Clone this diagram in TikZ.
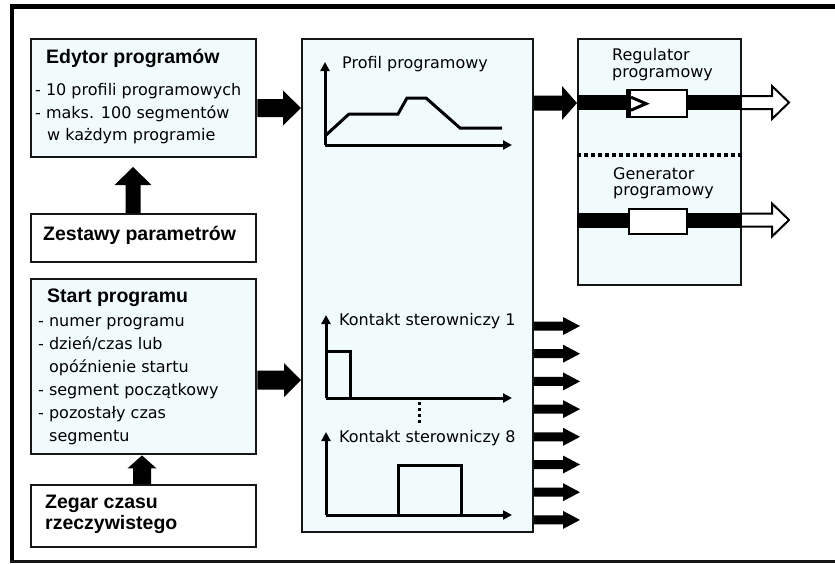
\documentclass[tikz,border=0pt]{standalone}
\usepackage{fontspec}
\setmainfont{DejaVu Sans}
\newfontfamily\hdfam{Liberation Sans}
\usetikzlibrary{arrows.meta,calc}
\definecolor{boxfill}{RGB}{242,251,251}
\definecolor{edge}{RGB}{22,22,22}
% horizontal fat arrow: from, to(tip), shaft half, head half, head length
\newcommand\myharr[5]{%
  \fill[black] ($(#1)+(0,-#3)$) -- ($(#2)+(-#5,-#3)$) -- ($(#2)+(-#5,-#4)$) -- (#2)
    -- ($(#2)+(-#5,#4)$) -- ($(#2)+(-#5,#3)$) -- ($(#1)+(0,#3)$) -- cycle;}
% vertical (upward) fat arrow: from, to(tip), shaft half, head half, head length
\newcommand\myvarr[5]{%
  \fill[black] ($(#1)+(-#3,0)$) -- ($(#2)+(-#3,#5)$) -- ($(#2)+(-#4,#5)$) -- (#2)
    -- ($(#2)+(#4,#5)$) -- ($(#2)+(#3,#5)$) -- ($(#1)+(#3,0)$) -- cycle;}
% straight black bar between two points on one level
\newcommand\mybar[2]{%
  \fill[black] ($(#1)+(0,-7.5)$) rectangle ($(#2)+(0,7.5)$);}
% hollow output arrow starting at a point
\newcommand\myhollow[1]{%
  \filldraw[fill=white, draw=black, line width=2pt, line join=miter]
    ($(#1)+(0,-6.5)$) -- ++(30,0) -- ++(0,-10) -- ++(17,16.5) -- ++(-17,16.5)
    -- ++(0,-10) -- ++(-30,0);}
\begin{document}
\begin{tikzpicture}[x=1pt,y=-1pt,
  box/.style={draw=edge, line width=2.4pt, fill=boxfill, inner sep=0pt, anchor=north west},
  wbox/.style={box, fill=white},
  panel/.style={draw=edge, line width=2pt, fill=boxfill, inner sep=0pt, anchor=north west},
  comp/.style={draw=black, line width=2.4pt, fill=white, inner sep=0pt, anchor=north west},
  txt/.style={font=\fontsize{16}{19}\selectfont, anchor=base west, inner sep=0pt},
  hd/.style={font=\hdfam\bfseries\fontsize{19.5}{22}\selectfont, anchor=base west, inner sep=0pt},
  axis/.style={line width=3pt, -{Triangle[length=9pt,width=9pt]}},
  curve/.style={line width=3pt, line join=miter}
]
\useasboundingbox (0,0) rectangle (835,563);
\fill[white] (0,0) rectangle (835,563);
% outer frame
\draw[line width=5pt, line cap=butt] (10,6.5) -- (835,6.5);
\draw[line width=4pt, line cap=butt] (12,6.5) -- (12,563);
\draw[line width=3pt, line cap=butt, draw=edge] (10,561.5) -- (835,561.5);

% boxes
\node[box, minimum width=225pt, minimum height=118pt] (edytor) at (30,38) {};
\node[wbox, minimum width=225pt, minimum height=48pt] (zest) at (30,213) {};
\node[box, minimum width=225pt, minimum height=175pt] (start) at (30,278) {};
\node[wbox, minimum width=225pt, minimum height=62pt] (zegar) at (30,484) {};
\node[panel, minimum width=231pt, minimum height=493pt] (mid) at (301,38) {};
\node[panel, minimum width=163pt, minimum height=246pt] (rbox) at (577,38) {};

% texts left
\node[hd] (t1) at (46,63.3) {Edytor programów};
\node[txt] (t2) at (35,95) {- 10 profili programowych};
\node[txt] (t3) at (35,118) {- maks. 100 segmentów};
\node[txt] (t4) at (47,140) {w każdym programie};
\node[hd] (t5) at (43,240) {Zestawy parametrów};
\node[hd] (t6) at (47,302) {Start programu};
\node[txt] (t7) at (38,326) {- numer programu};
\node[txt] (t8) at (38,349) {- dzień/czas lub};
\node[txt] (t9) at (49,372) {opóźnienie startu};
\node[txt] (t10) at (38,395) {- segment początkowy};
\node[txt] (t11) at (38,418) {- pozostały czas};
\node[txt] (t12) at (49,441) {segmentu};
\node[hd] (t13) at (45,508) {Zegar czasu};
\node[hd] (t14) at (45,529) {rzeczywistego};

% arrows on the left side
\coordinate (a1) at (0,108);
\coordinate (a2) at (0,380);
\coordinate (a3) at (0,103);
\coordinate (v1) at (133,167);
\coordinate (v2) at (142,0);
\myharr{edytor.east |- a1}{mid.west |- a1}{9}{17.5}{18}
\myharr{start.east |- a2}{mid.west |- a2}{9.5}{17}{17}
\myvarr{zest.north -| v1}{v1}{7.5}{18.5}{18}
\myvarr{zegar.north -| v2}{start.south -| v2}{9}{14.5}{13}
\myharr{mid.east |- a3}{rbox.west |- a3}{7.5}{17}{15}

% output arrows
\foreach \i [evaluate=\i as \yy using 326+27.7*\i] in {0,...,7}{
  \coordinate (o\i) at (580,\yy);
  \myharr{mid.east |- o\i}{o\i}{4.5}{9}{17}
}

% profile chart
\node[txt] (p1) at (342,68) {Profil programowy};
\draw[axis] (325,145) -- (325,62);
\draw[axis] (325,145) -- (512,145);
\draw[curve] (325,136) -- (349,114) -- (398,114) -- (407,98) -- (426,98) -- (460,128) -- (502,128);

% contact 1
\node[txt] (k1) at (339,325) {Kontakt sterowniczy 1};
\draw[axis] (326,398) -- (326,315);
\draw[axis] (326,398) -- (512,398);
\draw[curve] (326,351) -- (350,351) -- (350,398);
\draw[line width=3pt, dash pattern=on 3pt off 3pt] (419,402) -- (419,424);
% contact 8
\node[txt] (k8) at (339,442) {Kontakt sterowniczy 8};
\draw[axis] (326,515) -- (326,432);
\draw[axis] (326,515) -- (512,515);
\draw[curve] (398,515) -- (398,465) -- (461,465) -- (461,515);

% right panel
\node[txt] (r1) at (612,60.5) {Regulator};
\node[txt] (r2) at (612,77) {programowy};
\node[txt] (g1) at (613,179) {Generator};
\node[txt] (g2) at (613,195) {programowy};
\coordinate (rb) at (0,102.5);
\coordinate (gb) at (0,220);
\coordinate (rl) at (627,102.5);
\coordinate (rr) at (686,102.5);
\coordinate (gl) at (628,220);
\coordinate (gr) at (686,220);
\mybar{rbox.west |- rb}{rl}
\mybar{rr}{rbox.east |- rb}
\mybar{rbox.west |- gb}{gl}
\mybar{gr}{rbox.east |- gb}
\node[comp, minimum width=59pt, minimum height=27pt] (regc) at (627,89) {};
\node[comp, minimum width=58pt, minimum height=25pt] (genc) at (628,207.5) {};
\draw[line width=5pt, line cap=butt] ($(regc.north west)+(1.5,0)$) -- ($(regc.south west)+(1.5,0)$);
\draw[line width=3pt, line join=miter] ($(regc.west)+(4,-6.5)$) -- ($(regc.west)+(19,0)$) -- ($(regc.west)+(4,6.5)$);
\draw[line width=4pt, dash pattern=on 4pt off 3pt] (rbox.west |- 0,155) -- (rbox.east |- 0,155);
\myhollow{rbox.east |- rb}
\myhollow{rbox.east |- gb}
\end{tikzpicture}
\end{document}
